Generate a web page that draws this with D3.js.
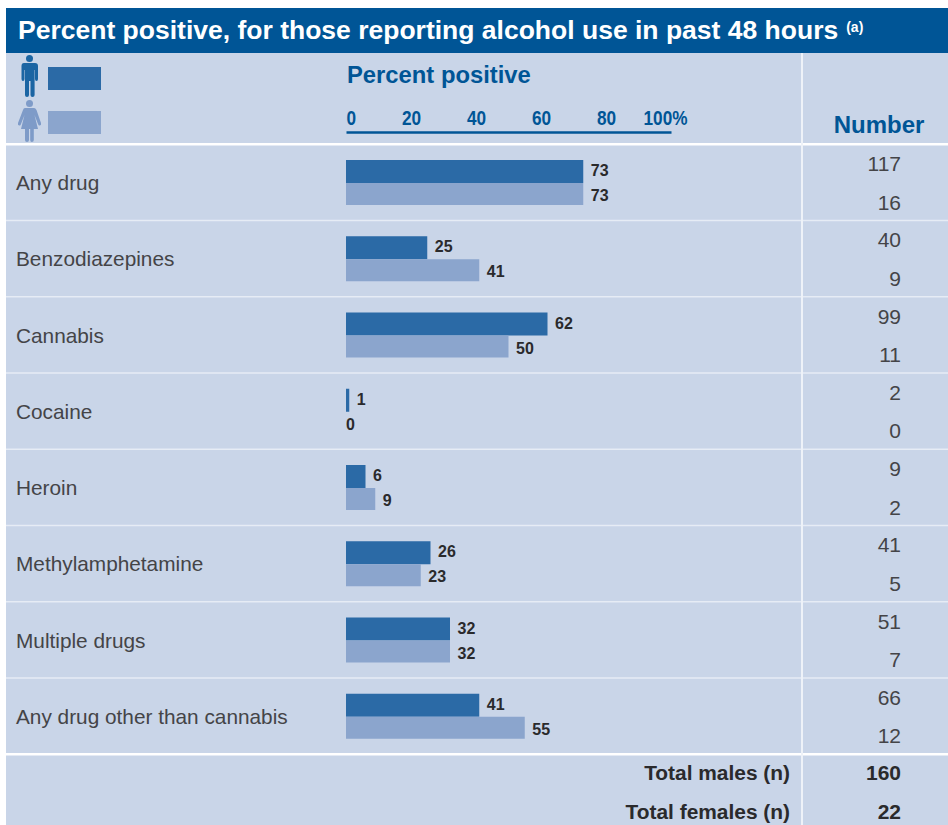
<!DOCTYPE html>
<html><head><meta charset="utf-8">
<script src="https://cdnjs.cloudflare.com/ajax/libs/d3/7.8.5/d3.min.js"></script>
<style>html,body{margin:0;padding:0;background:#fff}svg{display:block}text{font-family:"Liberation Sans",Arial,sans-serif}</style>
</head><body><svg id="c" width="948" height="825"></svg>
<script>
const categories=["Any drug","Benzodiazepines","Cannabis","Cocaine","Heroin","Methylamphetamine","Multiple drugs","Any drug other than cannabis"];
const malePct=[73,25,62,1,6,26,32,41];
const femalePct=[73,41,50,0,9,23,32,55];
const maleN=[117,40,99,2,9,41,51,66];
const femaleN=[16,9,11,0,2,5,7,12];
const ticks=[0,20,40,60,80,100];
const totals=[["Total males (n)",160],["Total females (n)",22]];
const title="Percent positive, for those reporting alcohol use in past 48 hours";

const svg=d3.select("#c");
const x=d3.scaleLinear().domain([0,100]).range([346,671]);
const y=d3.scaleBand().domain(categories).range([144,754]);
const navy="#005596",male="#2b6aa6",female="#8ba5cd",bg="#c9d5e8",ink="#2a2a2c",num="#444447";
const squeeze=(sel,f)=>sel.each(function(){const n=this.getComputedTextLength();d3.select(this).attr("textLength",n*f).attr("lengthAdjust","spacingAndGlyphs");});

svg.append("rect").attr("x",6).attr("y",53).attr("width",942).attr("height",772).attr("fill",bg);
svg.append("rect").attr("x",6).attr("y",8).attr("width",942).attr("height",45).attr("fill",navy);
const t=svg.append("text").attr("x",18).attr("y",39).attr("fill","#fff").attr("font-weight",700).attr("font-size",26.5).text(title);
t.append("tspan").attr("dx",8).attr("dy",-7).attr("font-size",14).text("(a)");

// separators
const seps=[...categories.map(c=>y(c)),754];
svg.selectAll(".sep").data(seps).join("rect").attr("class","sep").attr("x",6).attr("width",942)
  .attr("y",(d,i)=>d-(i==0||i==8?1:0.5)).attr("height",(d,i)=>(i==0||i==8)?2.5:1.5).attr("fill",(d,i)=>(i==0||i==8)?"#fff":"#e6ecf5");
svg.append("rect").attr("x",801).attr("y",53).attr("width",2).attr("height",772).attr("fill","#eef2f8");

// legend
const man=svg.append("g").attr("fill","#1b65a3");
man.append("circle").attr("cx",29.5).attr("cy",58.5).attr("r",3.5);
man.append("path").attr("d","M24 63H35Q38 63 38 66V79Q38 81 36.500 81Q35 81 35 79V70H34.600V95Q34.600 97 32.500 97Q30.500 97 30.500 95V81H29V95Q29 97 27 97Q25 97 25 95V70H24.500V79Q24.500 81 23 81Q21.500 81 21.500 79V66Q21.500 63 24 63Z");
const woman=svg.append("g").attr("fill","#7e9bc8");
woman.append("circle").attr("cx",29.5).attr("cy",103.5).attr("r",3.5);
woman.append("path").attr("d","M25 108H34Q35.500 108 36.500 110L41 123Q41.500 125 40 125.500Q38.500 126 38 124L34.500 115L38 129H33.800V140Q33.800 142 31.800 142Q30.200 142 30.200 140V129H29V140Q29 142 27 142Q25 142 25 140V129H21L24.500 115L21 124Q20.500 126 19 125.500Q17.500 125 18 123L23 110Q23.500 108 25 108Z");
svg.append("rect").attr("x",48).attr("y",67).attr("width",53).attr("height",23).attr("fill",male);
svg.append("rect").attr("x",48).attr("y",111).attr("width",53).attr("height",23).attr("fill",female);

// header
svg.append("text").attr("x",347).attr("y",83).attr("fill",navy).attr("font-weight",700).attr("font-size",23.8).text("Percent positive");
svg.append("text").attr("x",879).attr("y",133).attr("text-anchor","middle").attr("fill",navy).attr("font-weight",700).attr("font-size",24).text("Number");

// axis
const ax=svg.append("g").attr("transform","translate(0,132)")
  .call(d3.axisTop(x).tickValues(ticks).tickSize(0).tickPadding(7).tickFormat(d=>d===100?"100%":d));
ax.select(".domain").attr("stroke",navy).attr("stroke-width",2.6);
ax.selectAll("text").attr("fill",navy).attr("font-size",20).attr("font-weight",700)
  .attr("text-anchor",d=>d===0?"start":d===100?"end":"middle")
  .attr("dx",d=>d===100?16:0).call(squeeze,0.86);

// rows
const rows=svg.selectAll(".row").data(categories).join("g").attr("class","row").attr("transform",d=>`translate(0,${y(d)})`);
rows.append("text").attr("x",16).attr("y",46).attr("font-size",20.8).attr("fill",num).text(d=>d);
rows.append("rect").attr("x",x(0)).attr("y",16).attr("height",23).attr("width",(d,i)=>x(malePct[i])-x(0)).attr("fill",male);
rows.append("rect").attr("x",x(0)).attr("y",39).attr("height",22).attr("width",(d,i)=>x(femalePct[i])-x(0)).attr("fill",female);
const lab=(sel,arr,yy)=>sel.append("text").attr("y",yy).attr("x",(d,i)=>arr[i]===0?x(0):x(arr[i])+7.5).attr("font-size",17).attr("font-weight",700).attr("fill",ink)
  .text((d,i)=>arr[i]).call(squeeze,0.94);
lab(rows,malePct,32);lab(rows,femalePct,57);
rows.append("text").attr("x",901).attr("y",27).attr("text-anchor","end").attr("font-size",21).attr("fill",num).text((d,i)=>maleN[i]);
rows.append("text").attr("x",901).attr("y",65.5).attr("text-anchor","end").attr("font-size",21).attr("fill",num).text((d,i)=>femaleN[i]);

// totals
svg.selectAll(".tot").data(totals).join("g").attr("class","tot").attr("transform",(d,i)=>`translate(0,${780+i*39})`).each(function(d){
  const g=d3.select(this);
  g.append("text").attr("x",790).attr("text-anchor","end").attr("font-weight",700).attr("font-size",20.9).attr("fill",ink).text(d[0]);
  g.append("text").attr("x",901).attr("text-anchor","end").attr("font-weight",700).attr("font-size",21).attr("fill",ink).text(d[1]);
});
</script></body></html>
